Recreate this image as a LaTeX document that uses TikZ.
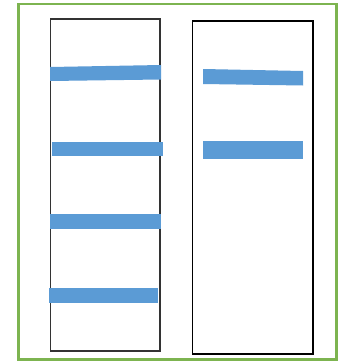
\documentclass[tikz,border=0pt]{standalone}
\definecolor{bandblue}{HTML}{5B9BD5}
\definecolor{framegreen}{HTML}{7DB450}
\begin{document}
\begin{tikzpicture}[x=1pt,y=-1pt,
  band/.style={fill=bandblue,draw=none},
  lane/.style={draw=black!80,line width=1.3pt},
  frame/.style={draw=framegreen,line width=2.6pt}]
\useasboundingbox[fill=white] (0,0) rectangle (339,362);
\draw[frame] (18.5,4) rectangle (336.5,359.5);
\draw[lane] (50.5,19) rectangle (160,351);
\draw[lane,draw=black] (192.5,21) rectangle (313,354);
% left bands
\fill[band] (50,67) -- (161,65) -- (161,79.5) -- (50,81) -- cycle;
\fill[band] (52,142) rectangle (162.5,156);
\fill[band] (50,214) rectangle (161,229);
\fill[band] (49,288) rectangle (158,303);
% right bands
\fill[band] (203,69) -- (303,71) -- (303,85.5) -- (203,84) -- cycle;
\fill[band] (203,141) rectangle (303,159);
\end{tikzpicture}
\end{document}
